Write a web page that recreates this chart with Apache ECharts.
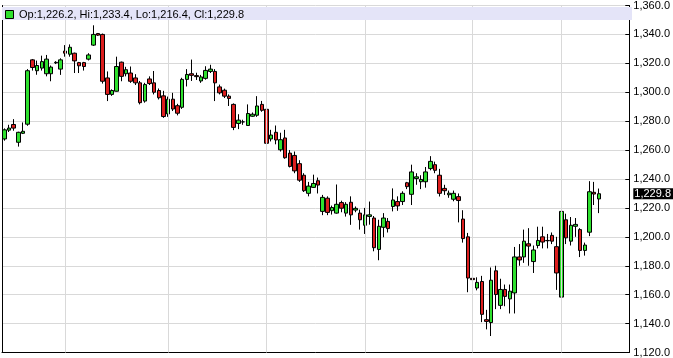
<!DOCTYPE html>
<html>
<head>
<meta charset="utf-8">
<script src="https://cdn.jsdelivr.net/npm/echarts@6/dist/echarts.min.js"></script>
<style>
html,body{margin:0;padding:0;background:#fff;}
#chart{width:673px;height:358px;}
</style>
</head>
<body>
<div id="chart"></div>
<script>
// ---- data ----
const opens = [1267.7,1273.8,1277.7,1265.4,1271.6,1277.9,1322.4,1314.9,1316.7,1312.8,
1312.8,1320.3,1316.0,1328.5,1326.3,1327.0,1320.5,1320.5,1322.9,1332.6,
1340.6,1340.0,1309.9,1298.5,1300.7,1320.8,1312.8,1313.3,1309.9,1306.5,
1293.9,1309.2,1306.5,1301.2,1297.5,1285.0,1295.2,1290.7,1289.6,1308.9,
1312.8,1311.5,1307.8,1309.6,1314.4,1314.4,1303.7,1301.4,1297.3,1291.6,
1278.4,1279.5,1277.0,1283.4,1284.1,1291.6,1288.2,1267.7,1272.3,1260.2,
1268.4,1257.9,1256.3,1250.6,1242.6,1230.1,1234.2,1238.8,1217.6,1226.7,
1218.1,1216.4,1223.7,1216.4,1223.9,1218.5,1216.4,1208.0,1214.1,1213.0,
1191.3,1206.6,1210.7,1221.0,1224.4,1224.4,1237.4,1229.4,1240.3,1238.1,
1238.1,1247.2,1249.9,1242.6,1233.5,1229.1,1226.0,1227.8,1212.3,1200.0,
1171.3,1164.6,1169.1,1142.7,1140.7,1176.5,1152.6,1163.6,1157.1,1161.2,
1186.1,1186.1,1195.2,1182.9,1194.0,1200.0,1197.5,1201.0,1193.2,1158.3,
1211.8,1197.0,1207.3,1205.0,1190.6,1203.2,1230.8,1226.2];
const closes = [1274.0,1275.2,1275.2,1272.3,1273.0,1314.9,1317.1,1318.5,1321.2,1322.9,
1317.4,1320.7,1322.4,1327.0,1331.1,1321.7,1318.3,1317.8,1325.8,1340.0,
1339.5,1307.6,1298.5,1301.2,1317.8,1311.0,1315.6,1307.6,1306.5,1292.8,
1305.3,1306.0,1300.0,1296.2,1283.2,1295.2,1288.4,1285.5,1308.9,1312.3,
1311.7,1310.8,1310.6,1315.1,1316.0,1306.5,1299.6,1297.3,1295.7,1275.7,
1280.7,1279.5,1285.3,1284.8,1290.5,1287.5,1264.7,1270.4,1267.0,1267.2,
1254.7,1248.7,1245.6,1239.2,1231.9,1235.1,1236.9,1235.8,1227.3,1216.9,
1220.3,1222.5,1219.8,1222.5,1215.2,1219.7,1211.8,1215.2,1215.2,1192.5,
1207.3,1213.0,1205.7,1225.5,1221.4,1230.1,1234.7,1244.9,1241.5,1239.7,
1244.9,1252.2,1246.0,1230.1,1231.9,1230.2,1230.1,1225.1,1198.8,1171.5,
1170.4,1168.5,1146.4,1141.5,1170.0,1160.1,1163.6,1158.8,1162.4,1186.1,
1184.0,1197.0,1193.6,1190.9,1197.5,1196.4,1197.3,1197.0,1175.0,1217.6,
1199.3,1208.0,1208.6,1190.6,1194.3,1231.2,1229.6,1229.8];
const lows = [1266.5,1272.5,1273.4,1262.4,1271.1,1276.8,1315.0,1312.1,1315.0,1311.0,
1307.6,1319.5,1312.0,1324.6,1324.6,1313.3,1313.3,1315.0,1322.0,1332.0,
1339.0,1306.0,1293.9,1297.5,1300.5,1307.6,1311.0,1306.5,1305.0,1291.6,
1292.8,1305.0,1298.5,1295.0,1282.3,1283.0,1287.0,1284.0,1288.5,1304.0,
1307.8,1308.5,1306.5,1308.7,1313.3,1293.9,1298.5,1296.0,1290.5,1273.8,
1274.5,1277.5,1276.8,1283.0,1283.0,1286.5,1264.0,1266.0,1264.0,1259.0,
1254.0,1248.0,1244.0,1238.0,1231.0,1228.0,1234.0,1230.0,1215.0,1215.0,
1215.4,1216.0,1217.0,1214.0,1208.3,1217.0,1205.0,1202.0,1208.4,1190.0,
1183.8,1199.7,1203.0,1217.6,1218.0,1222.0,1233.0,1222.0,1236.0,1233.0,
1234.0,1246.0,1244.0,1227.9,1229.0,1227.0,1224.6,1210.0,1196.0,1161.7,
1161.7,1163.0,1141.0,1136.0,1131.4,1150.0,1150.0,1152.0,1147.0,1147.0,
1180.0,1182.0,1180.0,1175.0,1192.0,1192.0,1192.0,1195.0,1163.3,1141.9,
1195.0,1194.0,1200.0,1186.0,1187.0,1200.5,1222.0,1216.4];
const highs = [1275.0,1277.5,1281.4,1272.7,1279.1,1316.0,1323.0,1321.9,1325.3,1325.8,
1318.5,1321.5,1323.5,1332.6,1333.1,1327.4,1321.0,1321.0,1327.0,1346.3,
1341.0,1340.6,1314.4,1302.0,1324.6,1321.2,1317.6,1317.8,1312.5,1307.8,
1306.5,1311.0,1314.7,1302.6,1301.0,1297.0,1299.6,1292.0,1310.0,1316.0,
1322.6,1313.5,1312.0,1318.0,1319.0,1316.0,1305.3,1302.5,1298.5,1292.3,
1284.8,1281.0,1291.6,1286.0,1297.3,1294.0,1291.0,1274.0,1277.0,1272.0,
1274.0,1260.0,1259.0,1253.0,1244.0,1238.0,1243.0,1241.0,1229.0,1228.0,
1221.6,1236.2,1225.0,1224.0,1228.0,1221.0,1218.8,1220.0,1224.4,1214.4,
1211.8,1216.4,1213.0,1233.5,1228.0,1231.5,1238.0,1249.9,1244.0,1242.6,
1248.3,1255.8,1252.0,1247.0,1236.0,1232.0,1232.0,1230.0,1218.4,1202.7,
1174.2,1172.0,1173.0,1149.5,1178.8,1180.0,1171.0,1167.0,1167.0,1193.0,
1195.0,1205.0,1206.0,1194.0,1207.0,1207.0,1202.0,1203.0,1200.0,1220.3,
1216.0,1213.7,1213.0,1206.0,1196.0,1238.5,1238.0,1233.4];
// trading-day slots (128 sessions + 6 empty slots before the price axis)
const categories = Array.from({length: 134}, (_, i) => 'd' + (i + 1));
// first session of each month (vertical grid lines)
const monthStarts = [13, 35, 56, 77, 100, 119];
// price axis ticks
const yMin = 1120, yMax = 1360, yStep = 20;

// ---- chart ----
const fmt = v => v.toLocaleString('en-US', {minimumFractionDigits: 1, maximumFractionDigits: 1});
const ohlc = opens.map((o, i) => [o, closes[i], lows[i], highs[i]]);
const last = opens.length - 1;
const FONT = 'Liberation Sans';

const chart = echarts.init(document.getElementById('chart'), null, {renderer: 'canvas'});
chart.setOption({
  animation: false,
  backgroundColor: '#ffffff',
  grid: {left: 2, right: 41, top: 5, bottom: 1.5, containLabel: false},
  xAxis: {
    type: 'category', data: categories, boundaryGap: true,
    axisLine: {show: true, lineStyle: {color: '#000', width: 1}},
    axisTick: {show: false}, axisLabel: {show: false}, splitLine: {show: false}
  },
  yAxis: [{
    type: 'value', position: 'right', min: yMin, max: yMax, interval: yStep,
    axisLine: {show: true, lineStyle: {color: '#000', width: 1}},
    axisTick: {show: true, inside: true, length: 4, lineStyle: {color: '#000'}},
    axisLabel: {show: true, margin: 4, color: '#000', fontFamily: FONT, fontSize: 11, formatter: fmt},
    splitLine: {show: true, lineStyle: {color: '#d9d9d9', width: 1}}
  }, {
    type: 'value', position: 'left', min: yMin, max: yMax, interval: yStep,
    axisLine: {show: true, lineStyle: {color: '#000', width: 1}},
    axisTick: {show: false}, axisLabel: {show: false}, splitLine: {show: false}
  }],
  series: [{
    type: 'line', data: [], z: 1, silent: true,
    markLine: {
      silent: true, symbol: ['none', 'none'], animation: false,
      label: {show: false},
      lineStyle: {color: '#d9d9d9', width: 1, type: 'solid'},
      data: monthStarts.map(i => ({xAxis: categories[i]}))
    }
  }, {
    type: 'candlestick', data: ohlc, z: 3, barWidth: 4,
    itemStyle: {
      color: '#2ee02e', color0: '#dc1e1e',
      borderColor: '#000', borderColor0: '#000', borderWidth: 1
    },
    markLine: {
      silent: true, symbol: ['none', 'none'], animation: false,
      lineStyle: {color: 'rgba(0,0,0,0)', width: 0},
      label: {
        show: true, position: 'end', distance: 4,
        formatter: p => fmt(p.value),
        color: '#fff', backgroundColor: '#000', padding: [0, 2, 0, 1],
        fontFamily: FONT, fontSize: 11, lineHeight: 11
      },
      emphasis: {disabled: true},
      data: [{yAxis: closes[last]}]
    }
  }],
  graphic: [
    {type: 'rect', shape: {x: 2, y: 7, width: 630, height: 13}, style: {fill: '#e4e4f8'}, z: 50},
    {type: 'rect', shape: {x: 5.5, y: 10.5, width: 8, height: 8}, style: {fill: '#2ee02e', stroke: '#000', lineWidth: 1}, z: 51},
    {type: 'text', x: 19, y: 14.5, z: 51, style: {
      text: 'Op:' + fmt(opens[last]) + ', Hi:' + fmt(highs[last]) + ', Lo:' + fmt(lows[last]) + ', Cl:' + fmt(closes[last]),
      fill: '#000', font: '11px "' + FONT + '"', verticalAlign: 'middle', align: 'left'
    }}
  ]
});
</script>
</body>
</html>
